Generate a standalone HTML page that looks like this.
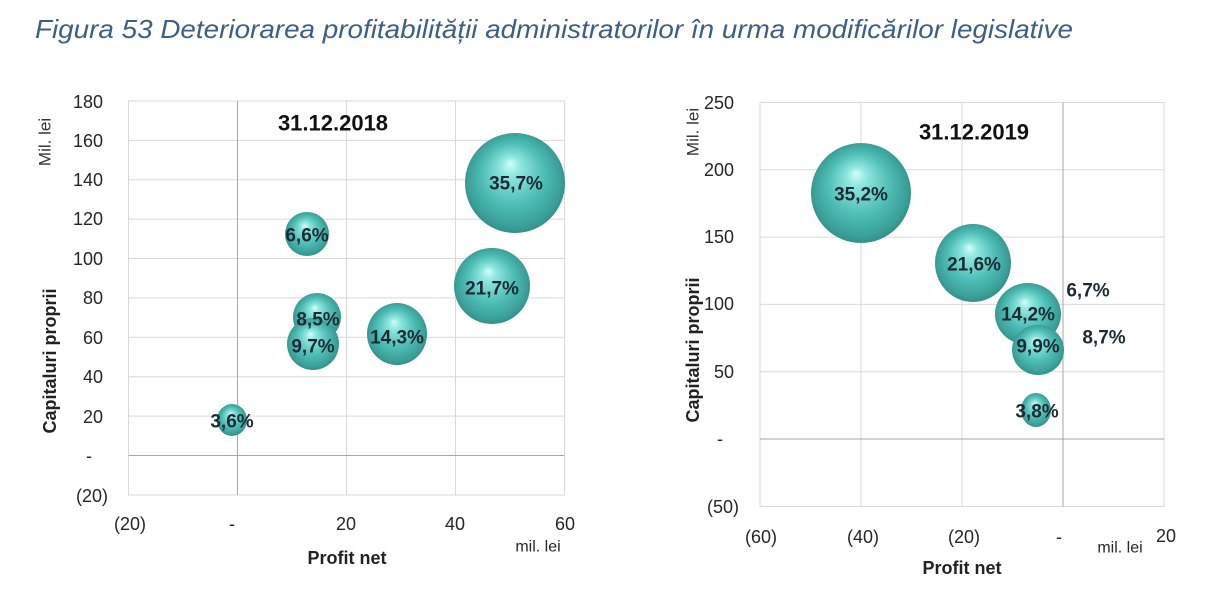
<!DOCTYPE html>
<html><head><meta charset="utf-8"><style>
html,body{margin:0;padding:0;background:#fff;}
svg{display:block;}
text{font-family:"Liberation Sans",sans-serif;}
</style></head><body>
<svg width="1222" height="600" viewBox="0 0 1222 600" xmlns="http://www.w3.org/2000/svg">
<defs>
<radialGradient id="bub" cx="50%" cy="50%" r="55%" fx="45%" fy="30%">
<stop offset="0%" stop-color="#d4fdf9"/>
<stop offset="18%" stop-color="#8fe6df"/>
<stop offset="55%" stop-color="#4fbfb7"/>
<stop offset="85%" stop-color="#3a9f98"/>
<stop offset="100%" stop-color="#2c847e"/>
</radialGradient>
</defs>
<rect width="1222" height="600" fill="#fff"/>
<text x="35" y="38" font-size="26" font-style="italic" fill="#3d5e86" textLength="1038" lengthAdjust="spacingAndGlyphs">Figura 53 Deteriorarea profitabilității administratorilor în urma modificărilor legislative</text>

<!-- LEFT CHART -->
<g stroke="#d9d9d9" stroke-width="1" fill="none">
<rect x="128.5" y="101" width="436" height="394"/>
<line x1="128.5" y1="140.4" x2="564.5" y2="140.4"/>
<line x1="128.5" y1="179.8" x2="564.5" y2="179.8"/>
<line x1="128.5" y1="219.1" x2="564.5" y2="219.1"/>
<line x1="128.5" y1="258.5" x2="564.5" y2="258.5"/>
<line x1="128.5" y1="297.9" x2="564.5" y2="297.9"/>
<line x1="128.5" y1="337.3" x2="564.5" y2="337.3"/>
<line x1="128.5" y1="376.7" x2="564.5" y2="376.7"/>
<line x1="128.5" y1="416.1" x2="564.5" y2="416.1"/>
<line x1="346.5" y1="101" x2="346.5" y2="495"/>
<line x1="455.5" y1="101" x2="455.5" y2="495"/>
</g>
<g stroke="#a6a6a6" stroke-width="1">
<line x1="128.5" y1="455.5" x2="564.5" y2="455.5"/>
<line x1="237.5" y1="101" x2="237.5" y2="495"/>
</g>
<g font-size="18" fill="#262626" text-anchor="end" dominant-baseline="central">
<text x="103" y="102">180</text>
<text x="103" y="141">160</text>
<text x="103" y="180">140</text>
<text x="103" y="219">120</text>
<text x="103" y="259">100</text>
<text x="103" y="298">80</text>
<text x="103" y="338">60</text>
<text x="103" y="377">40</text>
<text x="103" y="417">20</text>
<text x="92" y="456">-</text>
<text x="108" y="496">(20)</text>
</g>
<g font-size="18" fill="#262626" text-anchor="middle" dominant-baseline="central">
<text x="130" y="524">(20)</text>
<text x="232" y="524">-</text>
<text x="346" y="524">20</text>
<text x="455" y="524">40</text>
<text x="565" y="524">60</text>
<text x="538" y="547" font-size="16">mil. lei</text>
<text x="347" y="558" font-weight="bold" font-size="18" fill="#222">Profit net</text>
<text x="333" y="123" font-weight="bold" font-size="22" fill="#111">31.12.2018</text>
<text transform="translate(50,361) rotate(-90)" font-weight="bold" font-size="18" fill="#222">Capitaluri proprii</text>
<text transform="translate(45,142) rotate(-90)" font-size="17" fill="#333">Mil. lei</text>
</g>
<g fill="url(#bub)">
<ellipse cx="515" cy="183" rx="50" ry="50"/>
<ellipse cx="307" cy="234" rx="22" ry="22"/>
<ellipse cx="492" cy="286" rx="38" ry="38"/>
<ellipse cx="317" cy="317" rx="24" ry="24"/>
<ellipse cx="313" cy="344" rx="26" ry="26"/>
<ellipse cx="397" cy="334" rx="30" ry="31"/>
<ellipse cx="232" cy="420" rx="15" ry="16"/>
</g>
<g font-size="19" font-weight="bold" fill="#1c2b33" text-anchor="middle" dominant-baseline="central">
<text x="516" y="184">35,7%</text>
<text x="307" y="236">6,6%</text>
<text x="492" y="289">21,7%</text>
<text x="318" y="320">8,5%</text>
<text x="313" y="347">9,7%</text>
<text x="397" y="338">14,3%</text>
<text x="232" y="422">3,6%</text>
</g>

<!-- RIGHT CHART -->
<g stroke="#d9d9d9" stroke-width="1" fill="none">
<rect x="760" y="102.5" width="404" height="404"/>
<line x1="760" y1="169.8" x2="1164" y2="169.8"/>
<line x1="760" y1="237.1" x2="1164" y2="237.1"/>
<line x1="760" y1="304.4" x2="1164" y2="304.4"/>
<line x1="760" y1="371.7" x2="1164" y2="371.7"/>
<line x1="861" y1="102.5" x2="861" y2="506.5"/>
<line x1="962" y1="102.5" x2="962" y2="506.5"/>
</g>
<g stroke="#a6a6a6" stroke-width="1">
<line x1="760" y1="439" x2="1164" y2="439"/>
<line x1="1063" y1="102.5" x2="1063" y2="506.5"/>
</g>
<g font-size="18" fill="#262626" text-anchor="end" dominant-baseline="central">
<text x="734" y="103">250</text>
<text x="734" y="170">200</text>
<text x="734" y="237">150</text>
<text x="734" y="304">100</text>
<text x="734" y="372">50</text>
<text x="723" y="439">-</text>
<text x="739" y="507">(50)</text>
</g>
<g font-size="18" fill="#262626" text-anchor="middle" dominant-baseline="central">
<text x="761" y="537">(60)</text>
<text x="863" y="537">(40)</text>
<text x="964" y="537">(20)</text>
<text x="1059" y="537">-</text>
<text x="1166" y="536">20</text>
<text x="1120" y="548" font-size="16">mil. lei</text>
<text x="962" y="568" font-weight="bold" font-size="18" fill="#222">Profit net</text>
<text x="974" y="132" font-weight="bold" font-size="22" fill="#111">31.12.2019</text>
<text transform="translate(693,350) rotate(-90)" font-weight="bold" font-size="18" fill="#222">Capitaluri proprii</text>
<text transform="translate(693,132) rotate(-90)" font-size="17" fill="#333">Mil. lei</text>
</g>
<g fill="url(#bub)">
<ellipse cx="861" cy="193" rx="50" ry="50"/>
<ellipse cx="973" cy="263" rx="38" ry="39"/>
<ellipse cx="1028" cy="314" rx="33" ry="31"/>
<ellipse cx="1038" cy="350" rx="26" ry="25"/>
<ellipse cx="1036" cy="410" rx="15" ry="17"/>
</g>
<g font-size="19" font-weight="bold" fill="#1c2b33" text-anchor="middle" dominant-baseline="central">
<text x="861" y="195">35,2%</text>
<text x="974" y="265">21,6%</text>
<text x="1028" y="315">14,2%</text>
<text x="1038" y="347">9,9%</text>
<text x="1037" y="412">3,8%</text>
<text x="1088" y="291">6,7%</text>
<text x="1104" y="338">8,7%</text>
</g>
</svg>
</body></html>
